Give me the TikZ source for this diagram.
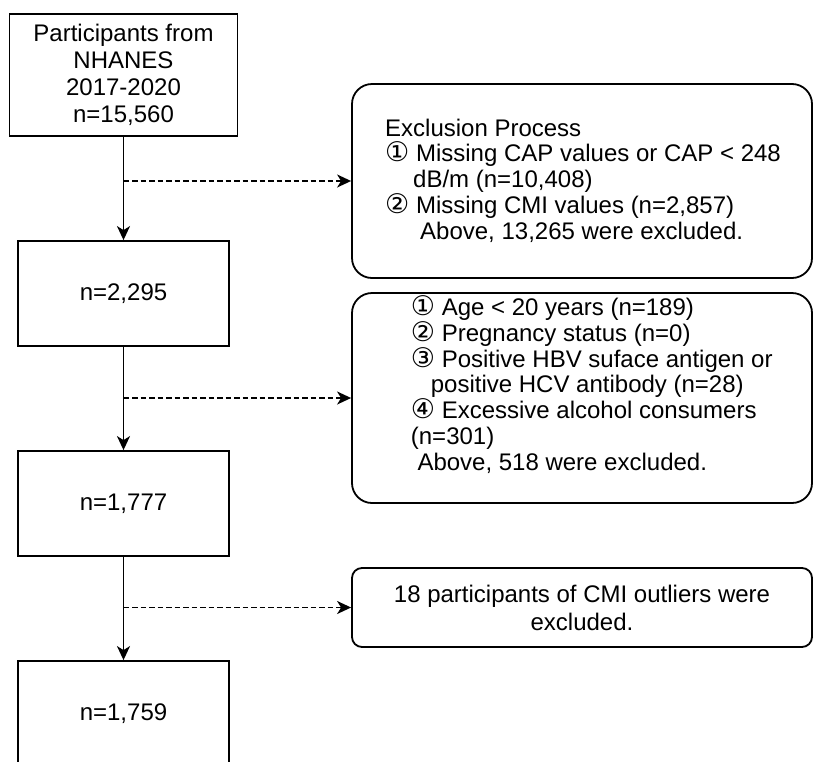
\documentclass[tikz,border=0pt]{standalone}
\usepackage{fontspec}
\setmainfont{Liberation Sans}
\newfontfamily\circfont{DejaVu Sans}
\usetikzlibrary{arrows.meta}
\newcommand{\cn}[1]{{\circfont\fontsize{27}{25.8}\selectfont #1}}
\setlength{\lineskiplimit}{-50pt}
\begin{document}
\begin{tikzpicture}[x=1pt,y=-1pt,
  mainbox/.style={draw, line width=1.8pt, minimum width=211pt, minimum height=105pt, inner sep=0pt, align=center, font=\fontsize{24}{27}\selectfont},
  exbox/.style={draw, line width=1.8pt, rounded corners=20pt, minimum width=460pt, inner sep=0pt},
  extext/.style={align=left, anchor=west, inner sep=0pt, font=\fontsize{24}{25.8}\selectfont},
  flow/.style={line width=1.8pt, -{Stealth[length=14pt, width=13pt, inset=4pt]}},
  side/.style={line width=1.8pt, dash pattern=on 5.5pt off 3pt, -{Stealth[length=14pt, width=13pt, inset=4pt]}}
]
\useasboundingbox (0,0) rectangle (814,761);

% main boxes
\node[mainbox, minimum width=228pt, minimum height=122pt] (b1) at (123.5,75) {Participants from\\NHANES\\2017-2020\\n=15,560};
\node[mainbox] (b2) at (123.5,293.5) {n=2,295};
\node[mainbox] (b3) at (123.5,503.5) {n=1,777};
\node[mainbox] (b4) at (123.5,713.5) {n=1,759};

% exclusion boxes
\node[exbox, minimum height=194pt] (e1) at (582,181) {};
\node[extext] (e1t) at (385,180.5) {Exclusion Process\\
\cn{①} Missing CAP values or CAP < 248\\
\hspace*{28pt}dB/m (n=10,408)\\
\cn{②} Missing CMI values (n=2,857)\\
\hspace*{35pt}Above, 13,265 were excluded.};

\node[exbox, minimum height=210pt] (e2) at (582,398) {};
\node[extext] (e2t) at (410.7,384.5) {\cn{①} Age < 20 years (n=189)\\
\cn{②} Pregnancy status (n=0)\\
\cn{③} Positive HBV suface antigen or\\
\hspace*{20pt}positive HCV antibody (n=28)\\
\cn{④} Excessive alcohol consumers\\
(n=301)\\
\hspace*{6.6pt}Above, 518 were excluded.};

\node[exbox, rounded corners=10pt, minimum height=79pt, align=center, font=\fontsize{24}{28}\selectfont] (e3) at (582,607.5) {18 participants of CMI outliers were\\excluded.};

% connectors
\draw[flow] (b1) -- (b2);
\draw[flow] (b2) -- (b3);
\draw[flow] (b3) -- (b4);

\coordinate (d1) at (b1.south |- e1.west);
\coordinate (d2) at (b2.south |- e2.west);
\coordinate (d3) at (b3.south |- e3.west);
\draw[side] (d1) -- (e1.west);
\draw[side] (d2) -- (e2.west);
\draw[side] (d3) -- (e3.west);
\end{tikzpicture}
\end{document}
